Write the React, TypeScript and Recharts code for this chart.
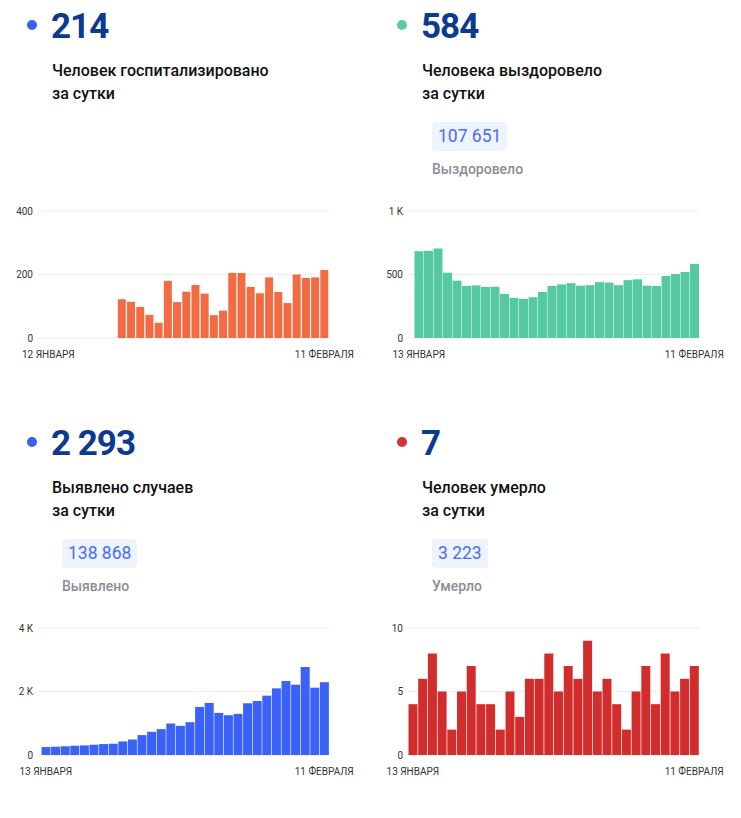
import React from 'react';
import { BarChart, Bar, XAxis, YAxis, CartesianGrid } from 'recharts';

// dates
const janDays = [
  '12 ЯНВАРЯ', '13 ЯНВАРЯ', '14 ЯНВАРЯ', '15 ЯНВАРЯ', '16 ЯНВАРЯ', '17 ЯНВАРЯ', '18 ЯНВАРЯ',
  '19 ЯНВАРЯ', '20 ЯНВАРЯ', '21 ЯНВАРЯ', '22 ЯНВАРЯ', '23 ЯНВАРЯ', '24 ЯНВАРЯ', '25 ЯНВАРЯ',
  '26 ЯНВАРЯ', '27 ЯНВАРЯ', '28 ЯНВАРЯ', '29 ЯНВАРЯ', '30 ЯНВАРЯ', '31 ЯНВАРЯ',
];
const febDays = [
  '1 ФЕВРАЛЯ', '2 ФЕВРАЛЯ', '3 ФЕВРАЛЯ', '4 ФЕВРАЛЯ', '5 ФЕВРАЛЯ', '6 ФЕВРАЛЯ',
  '7 ФЕВРАЛЯ', '8 ФЕВРАЛЯ', '9 ФЕВРАЛЯ', '10 ФЕВРАЛЯ', '11 ФЕВРАЛЯ',
];
const hospitalDates = [...janDays, ...febDays];
const dailyDates = hospitalDates.slice(1);

// series
const hospitalized = [
  null, null, null, null, null, null, null, null,
  122, 114, 98, 73, 48, 180, 113, 146, 167, 140, 72, 86, 205, 205, 161, 141, 191, 145, 110, 200, 189, 191, 214,
];
const recovered = [
  684, 687, 705, 514, 452, 410, 414, 402, 404, 347, 316, 308, 321, 362, 410,
  422, 432, 412, 416, 440, 437, 416, 456, 462, 412, 410, 488, 504, 520, 584,
];
const cases = [
  250, 261, 272, 292, 303, 324, 345, 355, 428, 491, 627, 731, 815, 992, 919,
  1034, 1514, 1640, 1326, 1253, 1295, 1629, 1702, 1869, 2099, 2329, 2214, 2768, 2120, 2293,
];
const deaths = [4, 6, 8, 5, 2, 5, 7, 4, 4, 2, 5, 3, 6, 6, 8, 5, 7, 6, 9, 5, 6, 4, 2, 5, 7, 4, 8, 5, 6, 7];

// y ticks
const hospitalTicks = [0, 200, 400];
const hospitalTickLabels = ['0', '200', '400'];
const recoveredTicks = [0, 500, 1000];
const recoveredTickLabels = ['0', '500', '1 K'];
const casesTicks = [0, 2000, 4000];
const casesTickLabels = ['0', '2 K', '4 K'];
const deathsTicks = [0, 5, 10];
const deathsTickLabels = ['0', '5', '10'];

const FONT = 'Roboto, "Noto Sans", sans-serif';

interface MiniChartProps {
  dates: string[];
  values: (number | null)[];
  ticks: number[];
  tickLabels: string[];
  color: string;
  padLeft: number;
}

const MiniChart: React.FC<MiniChartProps> = ({ dates, values, ticks, tickLabels, color, padLeft }) => {
  const data = dates.map((d, i) => ({ date: d, value: values[i] }));
  const first = dates[0];
  const last = dates[dates.length - 1];

  const renderXTick = (props: any) => {
    const { x, y, payload } = props;
    if (payload.value !== first && payload.value !== last) return <g />;
    return (
      <text x={x} y={y + 20} textAnchor="middle" fontSize={10} fill="#333" fontFamily={FONT}>
        {payload.value}
      </text>
    );
  };

  const renderYTick = (props: any) => {
    const { y, payload } = props;
    const idx = ticks.indexOf(payload.value);
    return (
      <text x={33} y={y} dy="0.35em" textAnchor="end" fontSize={10} fill="#333" fontFamily={FONT}>
        {tickLabels[idx]}
      </text>
    );
  };

  return (
    <BarChart
      width={370}
      height={170}
      data={data}
      margin={{ top: 16, right: 41, bottom: 7, left: 0 }}
      barCategoryGap={0.5}
    >
      <CartesianGrid vertical={false} stroke="#ececec" />
      <XAxis
        dataKey="date"
        interval={0}
        axisLine={false}
        tickLine={false}
        tickSize={0}
        tickMargin={0}
        height={20}
        padding={{ left: padLeft, right: 0 }}
        tick={renderXTick}
      />
      <YAxis
        width={38}
        domain={[0, ticks[ticks.length - 1]]}
        ticks={ticks}
        axisLine={false}
        tickLine={false}
        tickSize={0}
        tick={renderYTick}
      />
      <Bar dataKey="value" fill={color} isAnimationActive={false} />
    </BarChart>
  );
};

interface PanelProps {
  left: number;
  top: number;
  dotColor: string;
  value: string;
  line1: string;
  total?: string;
  totalLabel?: string;
  children: React.ReactNode;
}

const Panel: React.FC<PanelProps> = ({ left, top, dotColor, value, line1, total, totalLabel, children }) => (
  <div style={{ position: 'absolute', left, top, width: 370, height: 370, fontFamily: FONT }}>
    <div
      style={{
        position: 'absolute', left: 27, top: 20, width: 10, height: 10,
        borderRadius: '50%', background: dotColor,
      }}
    />
    <div
      style={{
        position: 'absolute', left: 51, top: 9, fontSize: 35, lineHeight: '35px',
        fontWeight: 700, color: '#0b3a8f', letterSpacing: -1, whiteSpace: 'nowrap',
      }}
    >
      {value}
    </div>
    <div
      style={{
        position: 'absolute', left: 52, top: 59, fontSize: 16, lineHeight: '23px',
        fontWeight: 500, color: '#111', whiteSpace: 'nowrap',
      }}
    >
      {line1}
      <br />
      за сутки
    </div>
    {total && (
      <>
        <div
          style={{
            position: 'absolute', left: 62, top: 122, height: 29, lineHeight: '29px',
            padding: '0 6px', fontSize: 17.5, color: '#4a6cf7', background: '#eef4fe',
            borderRadius: 4, whiteSpace: 'nowrap',
          }}
        >
          {total}
        </div>
        <div
          style={{
            position: 'absolute', left: 62, top: 161.5, fontSize: 14, lineHeight: '14px',
            fontWeight: 500, color: '#8a8e96', whiteSpace: 'nowrap',
          }}
        >
          {totalLabel}
        </div>
      </>
    )}
    <div style={{ position: 'absolute', left: 0, top: 195 }}>{children}</div>
  </div>
);

export default function App() {
  return (
    <div style={{ position: 'absolute', left: 0, top: 0, width: 741, height: 818, background: '#fff' }}>
      <Panel left={0} top={0} dotColor="#3b5ef5" value="214" line1="Человек госпитализировано">
        <MiniChart
          dates={hospitalDates}
          values={hospitalized}
          ticks={hospitalTicks}
          tickLabels={hospitalTickLabels}
          color="#f26b43"
          padLeft={5.7}
        />
      </Panel>
      <Panel
        left={370}
        top={0}
        dotColor="#5ccaa5"
        value="584"
        line1="Человека выздоровело"
        total="107 651"
        totalLabel="Выздоровело"
      >
        <MiniChart
          dates={dailyDates}
          values={recovered}
          ticks={recoveredTicks}
          tickLabels={recoveredTickLabels}
          color="#56c8a4"
          padLeft={6}
        />
      </Panel>
      <Panel
        left={0}
        top={417}
        dotColor="#3b5ef5"
        value="2 293"
        line1="Выявлено случаев"
        total="138 868"
        totalLabel="Выявлено"
      >
        <MiniChart
          dates={dailyDates}
          values={cases}
          ticks={casesTicks}
          tickLabels={casesTickLabels}
          color="#3a62f7"
          padLeft={3}
        />
      </Panel>
      <Panel
        left={370}
        top={417}
        dotColor="#d53232"
        value="7"
        line1="Человек умерло"
        total="3 223"
        totalLabel="Умерло"
      >
        <MiniChart
          dates={dailyDates}
          values={deaths}
          ticks={deathsTicks}
          tickLabels={deathsTickLabels}
          color="#d22d2d"
          padLeft={0}
        />
      </Panel>
    </div>
  );
}
